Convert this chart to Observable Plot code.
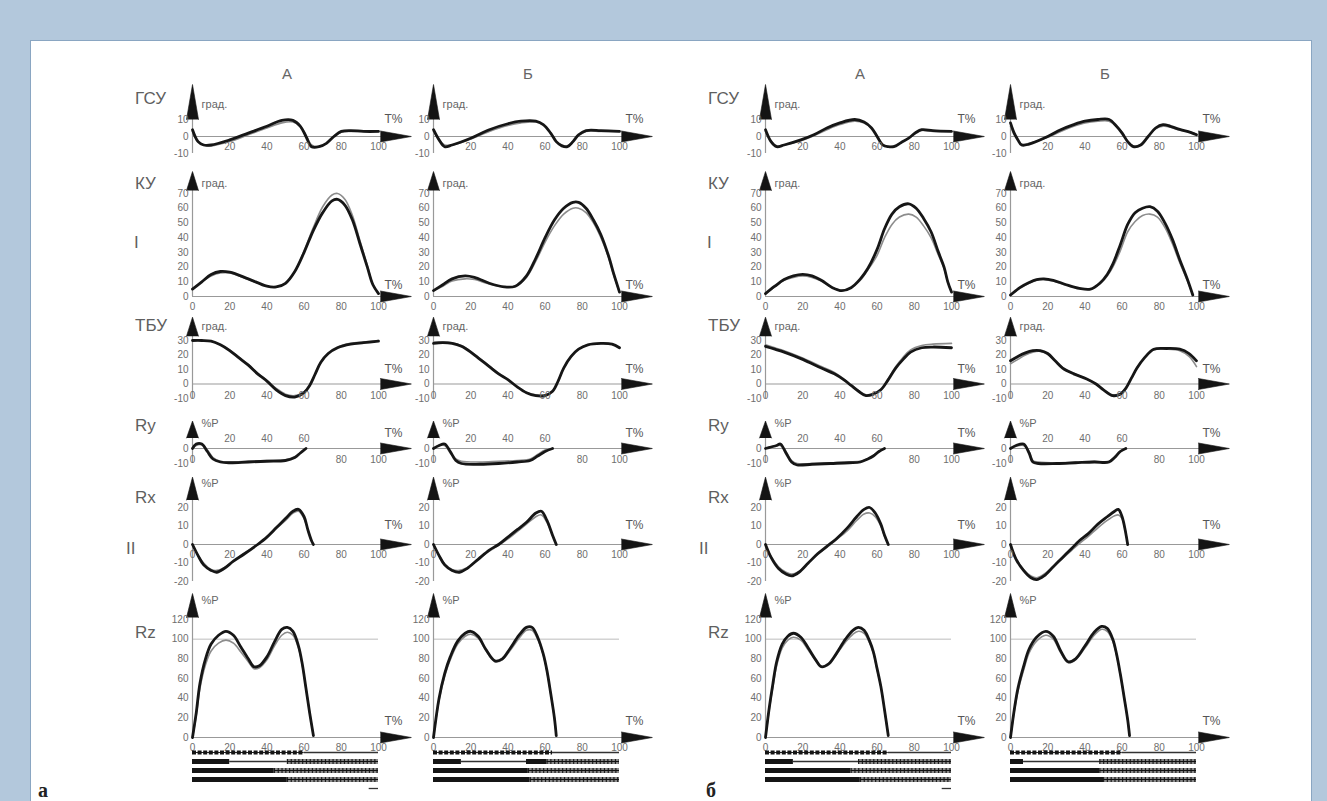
<!DOCTYPE html>
<html><head><meta charset="utf-8">
<script src="https://cdn.jsdelivr.net/npm/d3@7"></script>
<script src="https://cdn.jsdelivr.net/npm/@observablehq/plot@0.6"></script>
<style>
html,body{margin:0;padding:0;}
body{width:1327px;height:801px;background:#b3c8dc;position:relative;overflow:hidden;font-family:"Liberation Sans",Arial,sans-serif;}
#panel{position:absolute;left:30px;top:40px;width:1280px;height:780px;background:#fff;border:1px solid #8aa6c2;}
.t{position:absolute;white-space:nowrap;line-height:1;}
</style></head><body><div id="panel"></div>
<script>
// ---------- tick labels ----------
const gsuYTicks = [10, 0, -10];
const kuYTicks = [70, 60, 50, 40, 30, 20, 10, 0];
const tbuYTicks = [30, 20, 10, 0, -10];
const ryYTicks = [0, -10];
const rxYTicks = [20, 10, 0, -10, -20];
const rzYTicks = [120, 100, 80, 60, 40, 20, 0];
const gsuXTicks = [20, 40, 60, 80, 100];
const fullXTicks = [0, 20, 40, 60, 80, 100];
const ryXTicksAbove = [20, 40, 60];
const ryXTicksBelow = [0, 80, 100];

// ---------- labels ----------
const rowLabels = ["ГСУ", "КУ", "ТБУ", "Ry", "Rx", "Rz"];
const groupLabels = ["I", "II"];
const colHeaders = ["А", "Б", "А", "Б"];
const figLabels = ["а", "б"];
const unitAngle = "град.";
const unitForce = "%Р";
const timeLabel = "Т%";

// ---------- series: [T%, black curve, grey curve] ----------
// figure а, column А
const gsu_aA = [[0,4,3],[3,-3,-3],[6,-5,-5],[10,-5,-5.5],[20,-2,-3],[30,2,1],[40,6,5],[48,9.5,8],[54,9.5,8.5],[58,6,6],[61,0,1],[64,-6,-5],[68,-6,-6],[72,-4,-4],[76,0,0],[80,3,2.5],[85,3.5,3],[92,3,3],[100,3,3]];
const ku_aA = [[0,5,5],[5,10,10],[10,15,14],[15,17,16],[20,16.5,16],[30,12,11.5],[40,7,7],[45,6.5,6.5],[50,9,9],[55,17,17],[60,30,31],[65,45,47],[70,57,61],[75,65,69],[78,66,70],[82,62,66],[86,52,55],[90,36,38],[94,20,21],[97,8,8],[100,2,2]];
const tbu_aA = [[0,30,30],[5,30,30],[10,29.5,29.5],[15,27,27],[20,23,23.5],[25,18,18.5],[30,13,13.5],[35,7,7.5],[40,2,2.5],[45,-4,-3],[50,-8,-7],[55,-9,-8],[60,-6,-5.5],[63,-1,-1],[66,7,7],[69,15,15],[73,21,21.5],[78,25,25.5],[85,27.5,28],[92,28.5,29],[100,29.5,30]];
const ry_aA = [[0,0,0],[2,3,2],[5,3,2.5],[8,-2,-1],[11,-7,-6],[15,-9,-8.5],[20,-9.5,-9],[30,-9,-8.5],[40,-8.5,-8],[50,-8,-7.5],[55,-6,-5.5],[58,-3,-3],[61,0,0]];
const rx_aA = [[0,0,0],[3,-6,-6],[6,-11,-10],[10,-14,-13.5],[13,-15,-14],[17,-13,-12.5],[22,-9,-9],[28,-5,-4.5],[35,0,0],[40,4,4],[45,9,8.5],[50,14,13],[54,18,17],[57,19,18],[60,15,14],[62,8,8],[64,2,2],[65,0,0]];
const rz_aA = [[0,0,0],[2,25,22],[4,55,50],[7,80,74],[10,95,88],[14,104,96],[18,108,99],[22,104,96],[26,92,87],[30,80,77],[33,72,70],[36,73,71],[40,82,79],[44,97,93],[48,110,104],[51,112,107],[54,108,104],[57,93,91],[59,75,74],[61,50,50],[63,25,25],[65,2,2]];
// figure а, column Б
const gsu_aB = [[0,4,3],[3,-2,-2],[6,-6,-5],[10,-5,-5],[20,-1,-1.5],[30,4,3],[40,7.5,6.5],[47,9,8],[55,9,8.5],[59,7,7],[63,2,2],[66,-3,-3],[69,-5.5,-5],[72,-6,-5.5],[75,-3,-3],[78,1,0.5],[82,3.5,3],[90,3.5,3],[100,3,3]];
const ku_aB = [[0,4,4],[5,8,7],[10,12,10.5],[17,14,12],[22,13,11.5],[30,9,8.5],[38,6.5,6.5],[44,7,7],[50,14,13],[55,26,24],[60,40,37],[65,52,48],[70,60,56],[75,64,60],[78,64,60],[82,60,57],[86,52,50],[90,42,40],[94,28,27],[97,15,14],[100,3,3]];
const tbu_aB = [[0,28,29],[5,28.5,29],[10,28,28.5],[15,26,26.5],[20,22,22.5],[25,17,17.5],[30,12,12.5],[35,7,7.5],[40,3,3],[45,-2,-2],[50,-6,-6],[55,-8,-7.5],[60,-8,-7.5],[64,-5,-5],[67,2,2],[70,11,11],[74,19,19],[78,24,24],[83,27,27],[90,28,28],[96,27.5,27.5],[100,25,25]];
const ry_aB = [[0,0,0],[3,2,2],[6,3,2],[9,-2,-3],[12,-8,-7],[15,-10,-8.5],[25,-10.5,-9],[35,-10,-8.5],[45,-9,-8],[52,-8,-7],[56,-5,-4],[60,-2,-1],[64,0,0]];
const rx_aB = [[0,0,0],[3,-6,-6],[6,-11,-10.5],[10,-14,-13.5],[14,-15,-14],[18,-13,-12.5],[24,-8,-8],[30,-3,-3.5],[35,0,-0.5],[40,4,3],[45,8,7],[50,12,11],[55,17,15],[58,18,16],[61,13,12],[64,5,5],[66,0,0]];
const rz_aB = [[0,0,0],[3,40,38],[6,65,62],[9,82,79],[13,98,95],[17,106,103],[20,108,105],[24,103,101],[28,90,89],[33,78,77],[37,80,79],[41,90,88],[46,104,101],[50,112,109],[53,112,109],[56,102,100],[59,85,84],[61,68,67],[63,45,45],[65,20,20],[66,2,2]];
// figure б, column А
const gsu_bA = [[0,4,3],[3,-3,-3],[6,-6,-5.5],[10,-5,-5],[19,-2,-2.5],[26,1,0.5],[33,5,4],[40,8,7],[48,10,9],[53,8.5,8],[57,5,5],[60,0,0.5],[63,-5,-4.5],[66,-6,-6],[69,-6,-5.5],[73,-3.5,-3.5],[77,-1,-1],[81,2.5,2],[84,4,3.5],[90,3.5,3],[100,3,3]];
const ku_bA = [[0,2,2],[5,7,6.5],[10,11.5,11],[15,14,13],[20,15,14],[25,14,13],[30,11,10.5],[36,6,6],[41,4,4],[46,6,6],[51,12,11],[55,19,18],[60,32,28],[64,46,40],[68,56,49],[72,61,54],[77,63,56],[81,60,54],[85,53,48],[89,44,40],[93,30,28],[96,20,19],[98,10,10],[100,3,3]];
const tbu_bA = [[0,26,27],[5,24,25],[10,22,23],[20,17,18],[30,11,12],[37,7,8],[42,3,3.5],[46,-1,-0.5],[50,-5,-4.5],[54,-8,-7.5],[58,-7,-7],[62,-4,-4],[66,3,3.5],[70,11,12],[74,17,18.5],[78,22,23.5],[84,25,26.5],[90,25.5,27.5],[100,25,28]];
const ry_bA = [[0,0,0],[3,1,1],[6,2,2],[8,3,2],[11,-3,-2],[14,-9,-8],[17,-11,-10],[25,-10.5,-10],[35,-10,-9.5],[45,-9.5,-9],[51,-9,-8.5],[55,-7,-7],[58,-5,-4.5],[61,-2,-2],[64,0,0]];
const rx_bA = [[0,0,0],[3,-7,-6.5],[7,-13,-12],[11,-16,-15],[14,-17,-16],[18,-15,-14.5],[23,-10,-10],[28,-5,-5.5],[33,-1,-1.5],[38,3,2.5],[44,9,7.5],[49,15,13],[53,19,16.5],[56,20,17],[59,17,15],[62,11,10],[64,5,4.5],[66,0,0]];
const rz_bA = [[0,0,0],[2,30,28],[4,55,52],[6,77,73],[9,95,91],[12,103,99],[15,106,102],[19,102,99],[23,91,89],[27,79,78],[30,72,72],[34,75,74],[38,85,84],[43,100,97],[47,109,105],[50,112,108],[53,109,106],[56,98,96],[58,87,86],[60,70,69],[62,52,52],[64,28,28],[66,2,2]];
// figure б, column Б
const gsu_bB = [[0,8,6],[2,2,1],[4,-2,-2],[6,-5,-4.5],[10,-4.5,-4],[20,0,-0.5],[27,4,3],[34,7,6],[40,9,8],[47,10,9],[53,10,9],[57,6,6],[60,2,2.5],[63,-3,-3],[66,-6,-5.5],[70,-5,-5],[74,0,0],[78,5,4.5],[82,7,6],[86,6,5.5],[90,4.5,4],[95,3,3],[100,1,1.5]];
const ku_bB = [[0,1,1],[5,6,5.5],[10,9.5,9],[14,11.5,11],[18,12,11.5],[23,11,10.5],[30,8,7.5],[37,5.5,5.5],[43,5,5],[48,9,8.5],[52,15,14],[55,22,20],[59,35,31],[63,49,44],[67,57,51],[71,60,55],[75,61,56],[79,58,54],[83,50,47],[87,39,36],[91,25,23],[95,12,11],[98,1,1]];
const tbu_bB = [[0,16,14],[4,19,17],[8,21.5,20],[12,23,22],[16,23,22.5],[20,21,20.5],[24,16,16],[28,11,11.5],[34,7,7.5],[41,3.5,3.5],[46,0,0],[50,-4,-4],[55,-8,-7.5],[59,-7,-6.5],[62,-3,-3],[65,4,4],[68,11,11],[72,18,18],[77,24,23.5],[84,24.5,24],[91,24,23],[96,21,19],[100,16,12]];
const ry_bB = [[0,0,0],[3,2,1.5],[7,3,2],[10,-3,-2],[12,-9,-8],[15,-10,-9],[25,-10,-9.5],[35,-9.5,-9],[45,-9,-8.5],[53,-9,-8.5],[56,-6,-5.5],[59,-2,-2],[62,0,0]];
const rx_bB = [[0,0,0],[3,-8,-7.5],[7,-14,-13.5],[11,-18,-17],[14,-19,-18],[18,-17,-16],[23,-12,-12],[28,-7,-7.5],[33,-2,-3],[37,2,0.5],[42,6,4.5],[47,11,9],[52,15,13],[56,18,15.5],[58,19,16],[60,15,14],[62,6,6],[63,0,0]];
const rz_bB = [[0,0,0],[2,28,26],[4,50,47],[7,72,68],[10,90,86],[14,102,98],[19,108,104],[23,103,100],[27,88,86],[31,77,76],[35,80,79],[40,93,91],[45,107,104],[49,113,110],[52,111,108],[55,100,98],[57,85,84],[59,65,65],[61,42,42],[63,18,18],[64,2,2]];

// ---------- gait phase bars: [row, from %, to %, kind] ----------
const bars_aA = [[0,0,60,"dash"],[0,60,100,"thin"],[1,0,20,"solid"],[1,20,51,"thin"],[1,51,100,"hatch"],[2,0,44,"solid"],[2,44,100,"hatch"],[3,0,51,"solid"],[3,51,100,"hatch"],[4,95,100,"thin"]];
const bars_aB = [[0,0,64,"dash"],[0,64,100,"thin"],[1,0,15,"solid"],[1,15,50,"thin"],[1,50,61,"solid"],[1,61,100,"hatch"],[2,0,51,"solid"],[2,51,100,"hatch"],[3,0,52,"solid"],[3,52,100,"hatch"]];
const bars_bA = [[0,0,66,"dash"],[0,66,100,"thin"],[1,0,15,"solid"],[1,15,50,"thin"],[1,50,100,"hatch"],[2,0,46,"solid"],[2,46,100,"hatch"],[3,0,51,"solid"],[3,51,100,"hatch"],[4,95,100,"thin"]];
const bars_bB = [[0,0,60,"dash"],[0,60,100,"thin"],[1,0,7,"solid"],[1,7,48,"thin"],[1,48,100,"hatch"],[2,0,48,"solid"],[2,48,100,"hatch"],[3,0,50,"solid"],[3,50,100,"hatch"]];

// ---------- layout ----------
const columns = [
  {axisX: 192, panels: [gsu_aA, ku_aA, tbu_aA, ry_aA, rx_aA, rz_aA], bars: bars_aA},
  {axisX: 433, panels: [gsu_aB, ku_aB, tbu_aB, ry_aB, rx_aB, rz_aB], bars: bars_aB},
  {axisX: 765, panels: [gsu_bA, ku_bA, tbu_bA, ry_bA, rx_bA, rz_bA], bars: bars_bA},
  {axisX: 1010, panels: [gsu_bB, ku_bB, tbu_bB, ry_bB, rx_bB, rz_bB], bars: bars_bB}
];
const W_AX = 186, ML = 46, MR = 80, MT = 44, MB = 24;
const rowsCfg = [
  {dom:[-10,10], px:[153,119], vLo:-10, aBase:10, aLen:35, unit:unitAngle, unitDy:-15, tDy:-17, yt:gsuYTicks, xtB:gsuXTicks, xtA:[], xtDy:10},
  {dom:[0,70], px:[296,193], vLo:0, aBase:72, aLen:19, unit:unitAngle, unitDy:-7, tDy:-11, yt:kuYTicks, xtB:fullXTicks, xtA:[], xtDy:10},
  {dom:[-10,30], px:[398,340], vLo:-10, aBase:33, aLen:19, unit:unitAngle, unitDy:-10, tDy:-15, yt:tbuYTicks, xtB:fullXTicks, xtA:[], xtDy:12},
  {dom:[-10,0], px:[463,448], vLo:-10, aBase:7, aLen:17, unit:unitForce, unitDy:-15, tDy:-15, yt:ryYTicks, xtB:ryXTicksBelow, xtA:ryXTicksAbove, xtDy:11},
  {dom:[-20,20], px:[581,507], vLo:-20, aBase:24, aLen:23, unit:unitForce, unitDy:-17, tDy:-19, yt:rxYTicks, xtB:fullXTicks, xtA:[], xtDy:10},
  {dom:[0,120], px:[737,619], vLo:0, aBase:122, aLen:24, unit:unitForce, unitDy:-17, tDy:-16, yt:rzYTicks, xtB:fullXTicks, xtA:[], xtDy:10, ref:100}
];
const rowLabelY = [98, 183, 325, 425, 497, 632];
const groupLabelY = [242, 548];
const FONT = "Liberation Sans, Arial, sans-serif";
const TICK = "#6e6e6e";

function place(el, left, top) {
  el.style.position = "absolute";
  el.style.left = left + "px";
  el.style.top = top + "px";
  document.body.appendChild(el);
}

function makePanel(cfg, data, axisX) {
  const h = MT + (cfg.px[0] - cfg.px[1]) + MB;
  const marks = [
    Plot.ruleY([0], {x1: 0, x2: 103, stroke: "#999", strokeWidth: 1.2}),
    Plot.ruleX([0], {y1: cfg.vLo, y2: cfg.aBase, stroke: "#999", strokeWidth: 1.2}),
    Plot.vector([0], {x: 0, y: cfg.aBase, length: cfg.aLen, rotate: 0, shape: "spike", r: 6, anchor: "start", fill: "#141414", stroke: "#141414", strokeWidth: 0.6}),
    Plot.vector([0], {x: 101, y: 0, length: 31, rotate: 90, shape: "spike", r: 5.5, anchor: "start", fill: "#141414", stroke: "#141414", strokeWidth: 0.6}),
    Plot.line(data, {x: d => d[0], y: d => d[2], stroke: "#8c8c8c", strokeWidth: 1.6, curve: "catmull-rom"}),
    Plot.line(data, {x: d => d[0], y: d => d[1], stroke: "#161616", strokeWidth: 2.8, curve: "catmull-rom"}),
    Plot.text(cfg.yt, {x: 0, y: d => d, text: d => String(d), dx: -4, textAnchor: "end", fontSize: 10, fill: TICK}),
    Plot.text(cfg.xtB, {x: d => d, y: 0, dy: cfg.xtDy, text: d => String(d), fontSize: 10, fill: TICK}),
    Plot.text(cfg.xtA, {x: d => d, y: 0, dy: -10, text: d => String(d), fontSize: 10, fill: TICK}),
    Plot.text([timeLabel], {x: 108, y: 0, dy: cfg.tDy, text: d => d, fontSize: 12, fill: "#555"}),
    Plot.text([cfg.unit], {x: 0, y: cfg.aBase, dx: 9, dy: cfg.unitDy, text: d => d, textAnchor: "start", fontSize: 11, fill: "#666"})
  ];
  if (cfg.ref != null) marks.splice(1, 0, Plot.ruleY([cfg.ref], {x1: 0, x2: 100, stroke: "#bdbdbd", strokeWidth: 1}));
  const svg = Plot.plot({
    width: ML + W_AX + MR, height: h,
    marginLeft: ML, marginRight: MR, marginTop: MT, marginBottom: MB,
    x: {domain: [0, 100], axis: null},
    y: {domain: cfg.dom, axis: null},
    style: {overflow: "visible", background: "transparent", fontFamily: FONT},
    marks
  });
  place(svg, axisX - ML, cfg.px[1] - MT);
}

function makeBars(segs, axisX) {
  const rows = segs.map(([r, s, e, k]) => ({r, s, e, k}));
  const of = k => rows.filter(d => d.k === k);
  const h = MT + 36 + MB;
  const svg = Plot.plot({
    width: ML + W_AX + MR, height: h,
    marginLeft: ML, marginRight: MR, marginTop: MT, marginBottom: MB,
    x: {domain: [0, 100], axis: null},
    y: {domain: [4, 0], axis: null},
    style: {overflow: "visible", background: "transparent"},
    marks: [
      Plot.ruleY(of("thin"), {x1: "s", x2: "e", y: "r", stroke: "#333", strokeWidth: 1.3}),
      Plot.ruleY(of("dash"), {x1: "s", x2: "e", y: "r", stroke: "#222", strokeWidth: 1.2}),
      Plot.ruleY(of("dash"), {x1: "s", x2: "e", y: "r", stroke: "#151515", strokeWidth: 4, strokeDasharray: "4,1.6"}),
      Plot.ruleY(of("solid"), {x1: "s", x2: "e", y: "r", stroke: "#151515", strokeWidth: 5}),
      Plot.ruleY(of("hatch"), {x1: "s", x2: "e", y: "r", stroke: "#8a8a8a", strokeWidth: 5}),
      Plot.ruleY(of("hatch"), {x1: "s", x2: "e", y: "r", stroke: "#1e1e1e", strokeWidth: 5, strokeDasharray: "1.2,2.6"}),
      Plot.ruleY(of("hatch"), {x1: "s", x2: "e", y: "r", stroke: "#111", strokeWidth: 1.2})
    ]
  });
  place(svg, axisX - ML, 752 - MT);
}

function text(str, x, y, css, anchor) {
  const el = document.createElement("div");
  el.className = "t";
  el.textContent = str;
  Object.assign(el.style, css);
  el.style.transform = anchor === "middle" ? "translate(-50%,-50%)" : anchor === "end" ? "translate(-100%,-50%)" : "translate(0,-50%)";
  place(el, x, y);
}

columns.forEach((col, ci) => {
  rowsCfg.forEach((cfg, ri) => makePanel(cfg, col.panels[ri], col.axisX));
  makeBars(col.bars, col.axisX);
  text(colHeaders[ci], col.axisX + 95, 73, {fontSize: "15px", color: "#666"}, "middle");
  if (ci % 2 === 0) {
    rowLabels.forEach((lab, ri) => text(lab, col.axisX - 57, rowLabelY[ri], {fontSize: "17px", color: "#5f5f5f"}, "start"));
    groupLabels.forEach((lab, gi) => text(lab, col.axisX - (gi ? 66 : 58), groupLabelY[gi], {fontSize: "17px", color: "#5f5f5f"}, "start"));
  }
});
text(figLabels[0], 38, 790, {fontSize: "20px", fontWeight: "bold", color: "#222", fontFamily: "Liberation Serif, serif"}, "start");
text(figLabels[1], 706, 790, {fontSize: "20px", fontWeight: "bold", color: "#222", fontFamily: "Liberation Serif, serif"}, "start");
</script></body></html>
